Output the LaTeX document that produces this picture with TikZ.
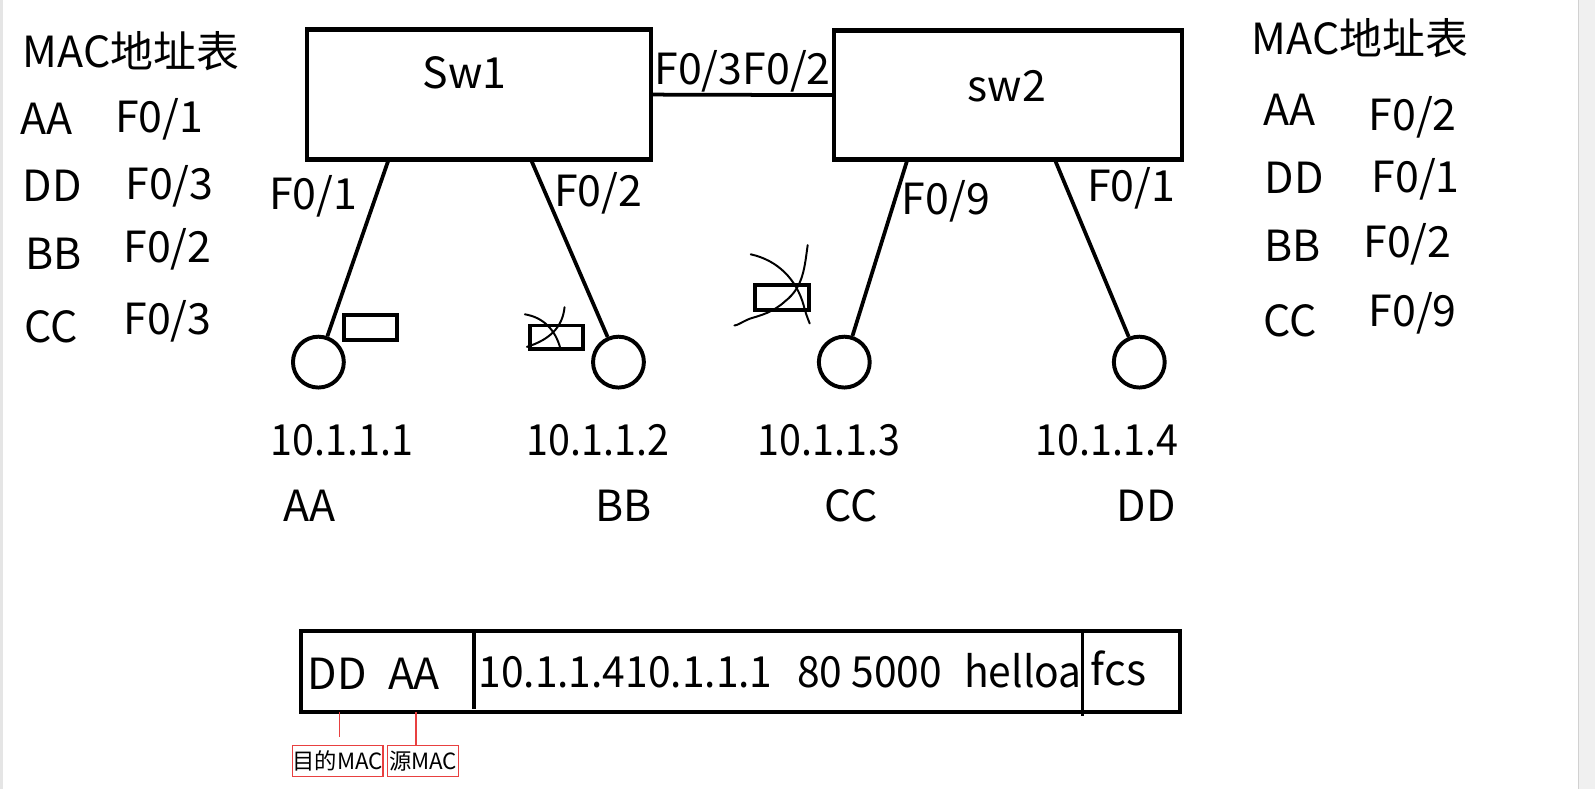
\documentclass[tikz,border=0pt]{standalone}
\usepackage{graphicx}
\usepackage{fontspec}
\setmainfont{Noto Sans CJK SC}
\definecolor{redline}{RGB}{232,64,64}
\newcommand\narrowtxt[1]{\scalebox{0.92}[1]{#1}}
\begin{document}
\begin{tikzpicture}[x=0.02cm,y=-0.02cm,
  txt/.style={font=\fontsize{24}{28}\selectfont, inner sep=0pt},
  ltxt/.style={txt, anchor=west},
  swbox/.style={draw, line width=2.5pt, inner sep=0pt},
  host/.style={draw, circle, line width=2.2pt, minimum size=1cm, inner sep=0pt},
  pkt/.style={draw, line width=2.2pt, minimum height=0.48cm, inner sep=0pt},
  link/.style={line width=2.1pt},
  scrib/.style={line width=1.1pt, line cap=round},
  redbox/.style={draw=redline, line width=0.7pt, inner sep=0pt, minimum height=0.6cm, font=\fontsize{12.5}{14}\selectfont},
  redl/.style={draw=redline, line width=0.7pt}]
\useasboundingbox (0,0) rectangle (1568,776);
\fill[white] (0,0) rectangle (1568,776);
\fill[black!6] (1552,0) rectangle (1568,776);
\draw[black!18, line width=0.5pt] (1552,0) -- (1552,776);
\fill[black!10] (0,0) rectangle (3,776);

% left MAC table
\node[ltxt] (lt) at (22,50) {MAC地址表};
\node[ltxt] (l1a) at (20,117) {AA};
\node[ltxt] (l1b) at (113,117) {F0/1};
\node[ltxt] (l2a) at (22,183) {DD};
\node[ltxt] (l2b) at (123,183) {F0/3};
\node[ltxt] (l3a) at (25,249) {BB};
\node[ltxt] (l3b) at (121,245) {F0/2};
\node[ltxt] (l4a) at (24,321) {CC};
\node[ltxt] (l4b) at (121,316) {F0/3};

% right MAC table
\node[ltxt] (rt) at (1230,38) {MAC地址表};
\node[ltxt] (r1a) at (1242,108) {AA};
\node[ltxt] (r1b) at (1345,115) {F0/2};
\node[ltxt] (r2a) at (1243,175) {DD};
\node[ltxt] (r2b) at (1348,176) {F0/1};
\node[ltxt] (r3a) at (1243,242) {BB};
\node[ltxt] (r3b) at (1340,240) {F0/2};
\node[ltxt] (r4a) at (1242,315) {CC};
\node[ltxt] (r4b) at (1345,308) {F0/9};

% switches
\node[swbox, minimum width=6.76cm, minimum height=2.56cm] (sw1) at (471,93) {};
\node[swbox, minimum width=6.84cm, minimum height=2.54cm] (sw2) at (991,93.5) {};
\node[txt] (sw1lab) at (457,72) {Sw1};
\node[txt] (sw2lab) at (990,85) {sw2};
\draw[link] (sw1.east) -- (sw2.west);
\node[txt] (trunk) at (730,70) {F0/3F0/2};

% hosts
\node[host] (hA) at (313,356) {};
\node[host] (hB) at (608,356) {};
\node[host] (hC) at (830,356) {};
\node[host] (hD) at (1120,356) {};

\coordinate (p1) at (382,157);
\coordinate (p2) at (522,157);
\coordinate (p3) at (892,157);
\coordinate (p4) at (1037,157);
\draw[link] (p1) -- (hA);
\draw[link] (p2) -- (hB);
\draw[link] (p3) -- (hC);
\draw[link] (p4) -- (hD);

\node[txt] (pl1) at (308,193) {F0/1};
\node[txt] (pl2) at (588,190) {F0/2};
\node[txt] (pl3) at (930,198) {F0/9};
\node[txt] (pl4) at (1112,185) {F0/1};

% frames in transit
\node[pkt, minimum width=1.04cm] (pA) at (364,322) {};
\node[pkt, minimum width=1.04cm, minimum height=0.46cm] (pB) at (547,331.5) {};
\node[pkt, minimum width=1.06cm, minimum height=0.5cm] (pC) at (768.5,292.5) {};
\draw[scrib] (516,309) .. controls (534,312) and (546,324) .. (551,343);
\draw[scrib] (555,302) .. controls (553,322) and (540,334) .. (518,341);
\draw[scrib] (738,250) .. controls (765,256) and (783,275) .. (790,300) .. controls (792,308) and (794,313) .. (796,318);
\draw[scrib] (794,241) .. controls (791,262) and (790,282) .. (772,296) .. controls (760,307) and (748,310) .. (738,313) .. controls (730,316) and (725,320) .. (722,320);

% addresses
\node[txt] (ipA) at (336,433) {\narrowtxt{10.1.1.1}};
\node[txt] (ipB) at (588,433) {\narrowtxt{10.1.1.2}};
\node[txt] (ipC) at (815,433) {\narrowtxt{10.1.1.3}};
\node[txt] (ipD) at (1088,433) {\narrowtxt{10.1.1.4}};
\node[txt] (mA) at (304,497) {AA};
\node[txt] (mB) at (613,497) {BB};
\node[txt] (mC) at (837,497) {CC};
\node[txt] (mD) at (1127,497) {DD};

% frame format
\node[draw, line width=2.3pt, minimum width=17.28cm, minimum height=1.6cm, inner sep=0pt] (frame) at (728,660) {};
\coordinate (d1t) at (466,620);
\coordinate (d1b) at (466,697);
\coordinate (d2t) at (1064,620);
\coordinate (d2b) at (1064,704);
\draw[line width=1.8pt] (d1t) -- (d1b);
\draw[line width=1.8pt] (d2t) -- (d2b);
\node[ltxt] (fmac) at (302,662) {DD\hspace{0.5em}AA};
\node[ltxt] (fip) at (470,659) {\scalebox{0.95}[1]{10.1.1.410.1.1.1\hspace{0.6em}80 5000\hspace{0.55em}helloa}};
\node[ltxt] (ffcs) at (1072,657) {fcs};

% red annotations
\node[redbox, minimum width=1.76cm] (dst) at (332,748) {目的MAC};
\node[redbox, minimum width=1.4cm] (src) at (416,748) {源MAC};
\coordinate (dstl) at (334,700);
\coordinate (dste) at (334,725);
\coordinate (srcl) at (409,700);
\coordinate (srce) at (409,733);
\draw[redl] (dstl) -- (dste);
\draw[redl] (srcl) -- (srce);
\end{tikzpicture}
\end{document}
